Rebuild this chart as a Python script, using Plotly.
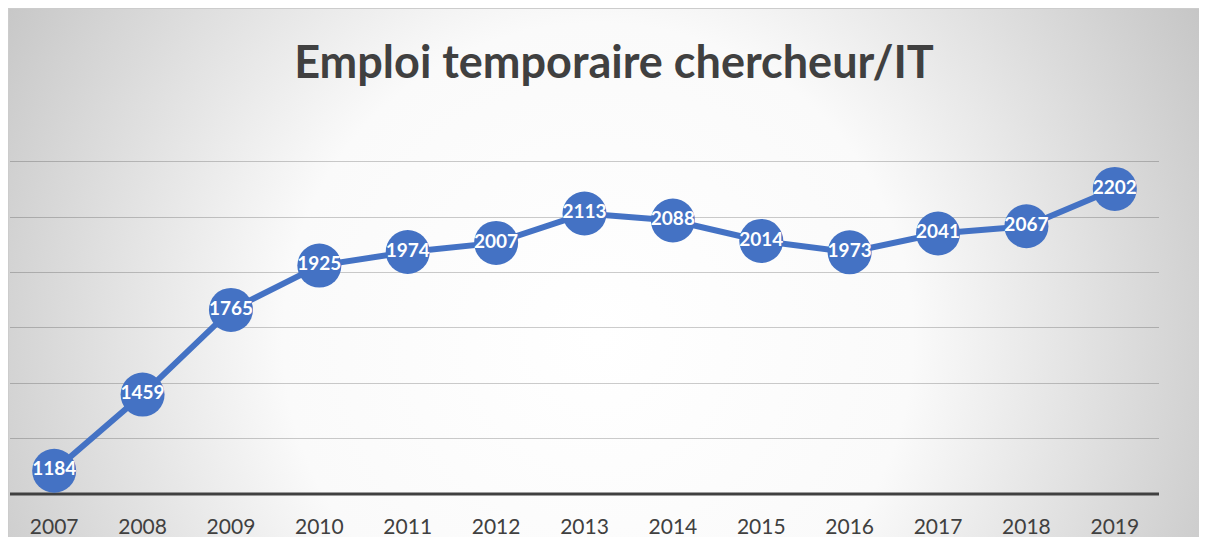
import base64
import plotly.graph_objects as go

years = ["2007", "2008", "2009", "2010", "2011", "2012", "2013",
         "2014", "2015", "2016", "2017", "2018", "2019"]
values = [1184, 1459, 1765, 1925, 1974, 2007, 2113, 2088, 2014, 1973, 2041, 2067, 2202]
title_text = "Emploi temporaire chercheur/IT"

W, H = 1207, 537
ml, mr, mt, mb = 2, 56, 151, 51
pw = W - ml - mr
ph = H - mt - mb

svg = (
    f'<svg xmlns="http://www.w3.org/2000/svg" width="{W}" height="{H}" '
    f'viewBox="0 0 {W} {H}" preserveAspectRatio="none">'
    '<defs><radialGradient id="g" gradientUnits="userSpaceOnUse" '
    'cx="590" cy="330" r="700">'
    '<stop offset="0" stop-color="#ffffff"/>'
    '<stop offset="0.45" stop-color="#fafafa"/>'
    '<stop offset="1" stop-color="#c4c4c4"/>'
    '</radialGradient></defs>'
    f'<rect x="0" y="0" width="{W}" height="{H}" fill="url(#g)"/></svg>'
)
src = "data:image/svg+xml;base64," + base64.b64encode(svg.encode()).decode()

x0 = -ml / pw
x1 = (W - ml) / pw
y1 = (H - mb) / ph
y0 = -mb / ph

fig = go.Figure()
fig.add_trace(go.Scatter(
    x=years, y=values,
    mode="lines+markers+text",
    line=dict(color="#4472C4", width=6),
    marker=dict(size=44, color="#4472C4"),
    text=[str(v) for v in values],
    textposition="middle center",
    textfont=dict(family="Lato", size=19, color="white", weight="bold"),
    hoverinfo="x+y",
    cliponaxis=False,
))

fig.add_layout_image(dict(
    source=src, xref="paper", yref="paper",
    x=x0, y=y1, sizex=x1 - x0, sizey=y1 - y0,
    xanchor="left", yanchor="top", sizing="stretch", layer="below",
))
fig.add_shape(type="line", xref="paper", yref="paper",
              x0=x0, x1=x1, y0=y1, y1=y1,
              line=dict(color="#cccccc", width=2), layer="below")
fig.add_shape(type="line", xref="paper", yref="paper",
              x0=x0, x1=x0, y0=y0, y1=y1,
              line=dict(color="#cccccc", width=2), layer="below")

fig.update_layout(
    width=W, height=H,
    margin=dict(l=ml, r=mr, t=mt, b=mb),
    paper_bgcolor="white",
    plot_bgcolor="rgba(0,0,0,0)",
    showlegend=False,
    title=dict(text=title_text, x=606 / W,
               xanchor="center", y=1 - 54 / H, yanchor="middle",
               font=dict(family="Lato", size=45, color="#404040", weight="bold")),
    xaxis=dict(type="category", range=[-0.5, 12.5], showgrid=False,
               showline=False, zeroline=False,
               ticks="outside", ticklen=14, tickcolor="rgba(0,0,0,0)",
               tickfont=dict(family="Lato", size=21, color="#404040")),
    yaxis=dict(range=[1100, 2310], dtick=200, tick0=1100, showticklabels=False,
               showgrid=True, gridcolor="rgba(0,0,0,0.2)", gridwidth=1,
               zeroline=False, showline=False, ticks=""),
)
fig.add_shape(type="line", xref="paper", yref="paper", x0=0, x1=1, y0=0, y1=0,
              line=dict(color="#404040", width=3), layer="below")

fig.write_html(
    "out.html",
    post_script="document.documentElement.style.overflow='hidden';"
                "document.body.style.overflow='hidden';",
)
